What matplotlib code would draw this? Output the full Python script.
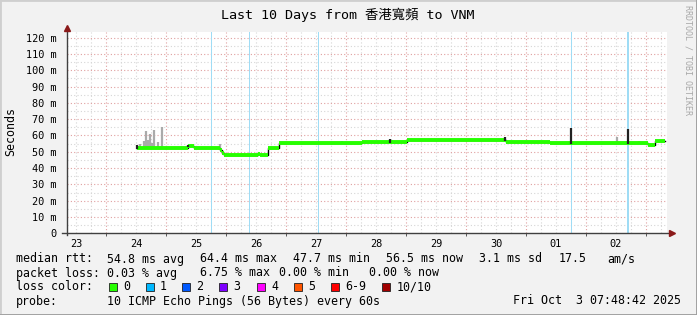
import matplotlib
matplotlib.use('Agg')
import matplotlib.pyplot as plt
import matplotlib.dates as mdates
from matplotlib.patches import Rectangle
import pandas as pd
import numpy as np

W, H = 697, 315
MONO = ['DejaVu Sans Mono', 'Noto Sans CJK TC']

# median rtt, step values (ms), each holds until the next time
median_t = ['2025-09-24 12:17', '2025-09-25 08:48', '2025-09-25 11:12', '2025-09-25 21:36',
            '2025-09-25 22:24', '2025-09-25 23:24', '2025-09-26 12:48', '2025-09-26 13:36',
            '2025-09-26 16:55', '2025-09-26 21:12', '2025-09-28 06:17', '2025-09-29 00:17',
            '2025-09-30 15:53', '2025-10-01 09:36', '2025-10-03 00:48', '2025-10-03 03:36',
            '2025-10-03 07:48']
median_ms = [52.5, 53.6, 52.5, 51.0, 49.5, 48.0, 48.6, 47.9,
             52.5, 55.3, 56.0, 57.3, 56.3, 55.2, 54.4, 56.6, 56.6]

# smoke spikes (gray) above the median
smoke_t = ['2025-09-24 13:36', '2025-09-24 15:12', '2025-09-24 16:00', '2025-09-24 16:48',
           '2025-09-24 17:36', '2025-09-24 18:24', '2025-09-24 19:12', '2025-09-24 20:48',
           '2025-09-24 22:24', '2025-09-25 21:36', '2025-09-27 22:17', '2025-10-02 12:17',
           '2025-10-02 21:12']
smoke_top = [55.0, 56.5, 62.7, 57.0, 61.0, 55.5, 63.4, 56.0, 65.0, 54.5, 56.8, 59.3, 56.8]

# dark spikes
spike_t = ['2025-09-24 12:17', '2025-09-25 09:00', '2025-09-28 17:36', '2025-09-29 02:17',
           '2025-09-30 15:40', '2025-10-01 18:00', '2025-10-02 16:55']
spike_top = [54.0, 54.0, 58.0, 56.5, 59.3, 64.4, 63.7]

# packet loss background bars (1/10 loss)
loss_t = ['2025-09-25 18:00', '2025-09-26 09:12', '2025-09-27 12:48', '2025-10-01 18:00',
          '2025-10-02 16:36']
loss_min = [24, 24, 24, 24, 48]

day_labels = ['23', '24', '25', '26', '27', '28', '29', '30', '01', '02']
y_ticks = [0, 10, 20, 30, 40, 50, 60, 70, 80, 90, 100, 110, 120]

loss_labels = ['0', '1', '2', '3', '4', '5', '6-9', '10/10']
loss_colors = ['#26ff00', '#00b8ff', '#0059ff', '#7e00ff', '#ff00ff', '#ff5500', '#ff0000', '#a00000']

t_start = pd.Timestamp('2025-09-23 08:18')
t_end = pd.Timestamp('2025-10-03 08:18')


def num(ts):
    return mdates.date2num(pd.to_datetime(ts).to_pydatetime())


fig = plt.figure(figsize=(W / 100, H / 100), dpi=100, facecolor='#f2f2f2')
left, right, top, bottom = 66.7, 666.7, 32.3, 233.3
ax = fig.add_axes([left / W, 1 - bottom / H, (right - left) / W, (bottom - top) / H])
ax.set_facecolor('white')
x0, x1 = num(t_start), num(t_end)
ax.set_xlim(x0, x1)
ax.set_ylim(0, 123.3)

# grid
for d in pd.date_range('2025-09-23 12:00', '2025-10-03 06:00', freq='6h'):
    if d.hour != 0:
        ax.axvline(num(d), color='#d6d6d6', lw=0.8, ls=(0, (1, 2)), zorder=0)
for d in pd.date_range('2025-09-24', '2025-10-03', freq='D'):
    ax.axvline(num(d), color='#e0a0a0', lw=0.8, ls=(0, (1, 2)), zorder=0)
for v in np.arange(5, 125, 10):
    ax.axhline(v, color='#d6d6d6', lw=0.8, ls=(0, (1, 2)), zorder=0)
for v in y_ticks[1:]:
    ax.axhline(v, color='#e0a0a0', lw=0.8, ls=(0, (1, 2)), zorder=0)

# loss bars
for t, m in zip(loss_t, loss_min):
    s = num(t)
    ax.axvspan(s, s + m / 1440, color='#9fdcf5', lw=0, zorder=1)

# smoke
mt = num(median_t)
med = np.array(median_ms)


def median_at(x):
    i = np.searchsorted(mt, x, side='right') - 1
    return med[max(i, 0)]


st = num(smoke_t)
ax.vlines(st, [median_at(x) for x in st], smoke_top, color='#aaaaaa', lw=1.6, zorder=2)

# median
ax.step(mt, med, where='post', color='black', lw=1.0, zorder=3)
ax.hlines(med[:-1], mt[:-1], mt[1:], color='#26ff00', lw=2.8, zorder=4)
kt = num(spike_t)
ax.vlines(kt, [median_at(x) - 0.6 for x in kt], spike_top, color='#222222', lw=1.6, zorder=5)

# axes
for s in ax.spines.values():
    s.set_visible(False)
ax.plot([0, 0], [-0.01, 1.015], transform=ax.transAxes, color='#404040', lw=1.0, clip_on=False, zorder=6)
ax.plot([-0.008, 1.006], [0, 0], transform=ax.transAxes, color='#404040', lw=1.0, clip_on=False, zorder=6)
ax.plot([0], [1.02], marker='^', ms=5, color='#8b1a1a', transform=ax.transAxes, clip_on=False, zorder=7)
ax.plot([1.008], [0], marker='>', ms=5, color='#8b1a1a', transform=ax.transAxes, clip_on=False, zorder=7)

ax.set_yticks(y_ticks)
ax.set_yticklabels([('%d m' % v) if v else '0' for v in y_ticks], family=MONO, fontsize=7.4)
noon = pd.date_range('2025-09-23 12:00', periods=len(day_labels), freq='D')
ax.set_xticks(num(noon))
ax.set_xticklabels(day_labels, family=MONO, fontsize=7.4)
ax.tick_params(axis='both', length=0, pad=4)
ax.tick_params(axis='y', pad=7)
ax.set_xticks(num(pd.date_range('2025-09-24', '2025-10-03', freq='D')), minor=True)
ax.tick_params(axis='x', which='minor', length=2, color='#404040')


def ftext(x, y, s, **kw):
    kw.setdefault('family', MONO)
    kw.setdefault('fontsize', 8.4)
    fig.text(x / W, 1 - y / H, s, va='baseline', **kw)


ftext(348, 19, 'Last 10 Days from 香港寬頻 to VNM', ha='center', fontsize=9.6)
fig.text(11 / W, 1 - 131 / H, 'Seconds', rotation=90, ha='center', va='center', family=MONO, fontsize=8.4)
fig.text(688 / W, 1 - 60 / H, 'RRDTOOL / TOBI OETIKER', rotation=270, ha='center', va='center',
         family=MONO, fontsize=6, color='#a8a8a8')

rows = [262.5, 276.5, 290.5, 304.5]
ftext(16, rows[0], 'median rtt:')
for x, s in zip([107.3, 200, 292.7, 386, 479.3, 558.3, 607.3],
                ['54.8 ms avg', '64.4 ms max', '47.7 ms min', '56.5 ms now', '3.1 ms sd', '17.5', 'am/s']):
    ftext(x, rows[0], s)
ftext(16, rows[1], 'packet loss:')
for x, s in zip([107.3, 200, 279.3, 369.3], ['0.03 % avg', '6.75 % max', '0.00 % min', '0.00 % now']):
    ftext(x, rows[1], s)
ftext(16, rows[2], 'loss color:')
box_x = [109, 145.5, 182, 219, 256.5, 293.5, 330.5, 381.7]
for bx, lab, c in zip(box_x, loss_labels, loss_colors):
    fig.patches.append(Rectangle((bx / W, 1 - 291 / H), 8 / W, 8 / H, transform=fig.transFigure,
                                 facecolor=c, edgecolor='#202020', lw=0.6))
    ftext(bx + 14.5, rows[2], lab)
ftext(16, rows[3], 'probe:')
ftext(107.3, rows[3], '10 ICMP Echo Pings (56 Bytes) every 60s')
ftext(513.3, rows[3], 'Fri Oct  3 07:48:42 2025')

# frame shading
fig.patches.append(Rectangle((0, 0), 1, 1, transform=fig.transFigure, fill=False, edgecolor='#cfcfcf', lw=2))
fig.lines.append(plt.Line2D([0, 1], [0.5 / H, 0.5 / H], transform=fig.transFigure, color='#9e9e9e', lw=2))
fig.lines.append(plt.Line2D([1 - 0.5 / W, 1 - 0.5 / W], [0, 1], transform=fig.transFigure, color='#9e9e9e', lw=2))

fig.savefig('out.png', dpi=100, facecolor=fig.get_facecolor())
